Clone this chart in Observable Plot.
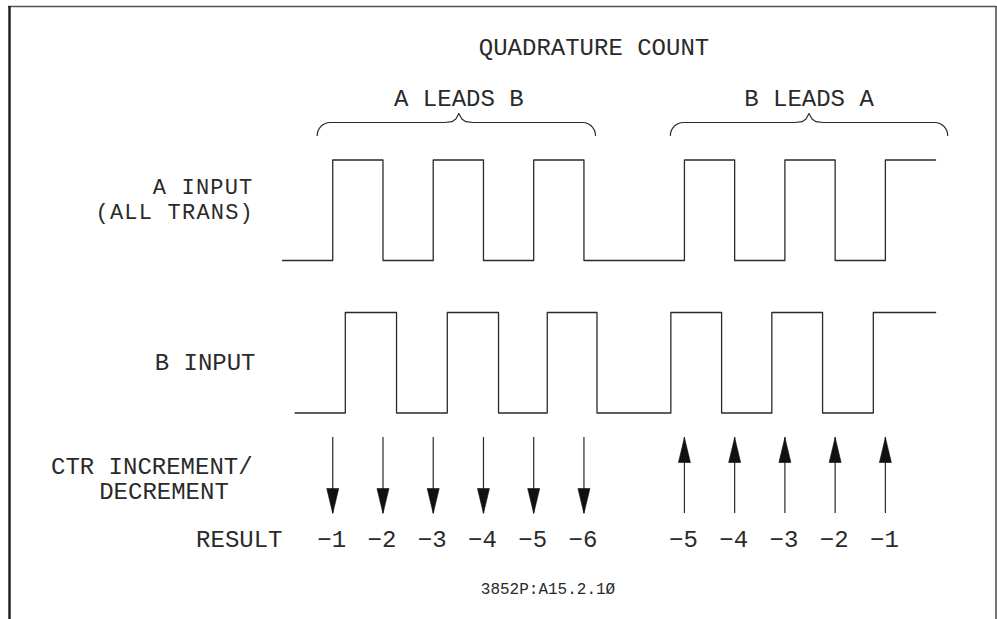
<!DOCTYPE html>
<html><head><meta charset="utf-8">
<script src="https://cdn.jsdelivr.net/npm/d3@7"></script>
<script src="https://cdn.jsdelivr.net/npm/@observablehq/plot@0.6"></script>
<style>html,body{margin:0;padding:0;background:#fff;} #chart svg{display:block;} #chart .tight text{letter-spacing:1.2px;}</style>
</head><body><div id="chart"></div>
<script>
// ---------------- data (time in clock half-periods) ----------------
const title = "QUADRATURE COUNT";
const caption = "3852P:A15.2.1Ø";
const rowLabels = ["A INPUT", "(ALL TRANS)", "B INPUT", "CTR INCREMENT/", "DECREMENT", "RESULT"];

const aStart = 0, aEnd = 13;
const aEdges = [1, 2, 3, 4, 5, 6, 8, 9, 10, 11, 12];
const bStart = 0.25, bEnd = 13;
const bEdges = [1.25, 2.27, 3.28, 4.3, 5.27, 6.26, 7.73, 8.74, 9.74, 10.75, 11.76];

const braceLabels = ["A LEADS B", "B LEADS A"];
const braceStart = [0.69, 7.72];
const braceEnd = [6.23, 13.24];
const bracePeak = [3.51, 10.48];

const arrowTimes = [1, 2, 3, 4, 5, 6, 8, 9, 10, 11, 12];
const arrowDir = ["down", "down", "down", "down", "down", "down", "up", "up", "up", "up", "up"];
const results = [-1, -2, -3, -4, -5, -6, -5, -4, -3, -2, -1];

// ---------------- layout ----------------
const W = 997, H = 619;
const X0 = 282, UNIT = 50.24;           // pixel of t=0, pixels per time unit
const T = px => (px - X0) / UNIT;       // pixel -> time (for label placement)
const laneA = 260, laneB = 412.5, amp = 100.5;
const arrowTop = 437, arrowBot = 513, headLen = 25, headHalf = 6;
const braceY = 122, braceDrop = 13, bracePeakY = 113;
const ink = "#2a2a2a", font = "Liberation Mono";

function steps(start, end, edges) {
  let v = 0;
  const pts = [{t: start, v}];
  for (const e of edges) { v = 1 - v; pts.push({t: e, v}); }
  pts.push({t: end, v});
  return pts;
}
const ptsA = steps(aStart, aEnd, aEdges);
const ptsB = steps(bStart, bEnd, bEdges);

// brace geometry
const bracePts = [];
braceLabels.forEach((lab, i) => {
  const xs = X0 + braceStart[i] * UNIT, xe = X0 + braceEnd[i] * UNIT, xp = X0 + bracePeak[i] * UNIT;
  const r = 13, pts = [];
  for (let k = 0; k <= 8; k++) { const a = Math.PI + k / 8 * Math.PI / 2; pts.push([xs + r + r * Math.cos(a), braceY + braceDrop + braceDrop * Math.sin(a)]); }
  pts.push([xp - 14, braceY], [xp - 7, braceY - 0.8], [xp - 3, braceY - 3.5], [xp, bracePeakY], [xp + 3, braceY - 3.5], [xp + 7, braceY - 0.8], [xp + 14, braceY]);
  for (let k = 0; k <= 8; k++) { const a = 1.5 * Math.PI + k / 8 * Math.PI / 2; pts.push([xe - r + r * Math.cos(a), braceY + braceDrop + braceDrop * Math.sin(a)]); }
  pts.forEach(([x, y]) => bracePts.push({id: i, t: T(x), y}));
});

const arrows = arrowTimes.map((t, i) => ({t, dir: arrowDir[i], r: results[i]}));
const headDown = {draw(c) { c.moveTo(0, 0); c.lineTo(-headHalf, -headLen); c.lineTo(headHalf, -headLen); c.closePath(); }};
const headUp = {draw(c) { c.moveTo(0, 0); c.lineTo(-headHalf, headLen); c.lineTo(headHalf, headLen); c.closePath(); }};
const fmt = d3.format("d");

const rowLabelPos = [
  {x: T(253), y: 186.5, anchor: "end", size: 22},
  {x: T(253.5), y: 211, anchor: "end", size: 22},
  {x: T(255), y: 362, anchor: "end", size: 24},
  {x: T(50.5), y: 466, anchor: "start", size: 24},
  {x: T(163.5), y: 490.5, anchor: "middle", size: 24},
  {x: T(282), y: 539, anchor: "end", size: 24}
];
const rowLabelData = rowLabels.map((s, i) => ({s, ...rowLabelPos[i]}));

const chart = Plot.plot({
  width: W, height: H, margin: 0,
  x: {domain: [T(0), T(W)], range: [0, W], axis: null},
  y: {domain: [0, H], range: [0, H], axis: null},
  style: {background: "#fff"},
  marks: [
    // frame
    Plot.ruleY([6], {x1: T(8), x2: T(996), stroke: "#555", strokeWidth: 1.5}),
    Plot.ruleX([T(9)], {y1: 6, y2: H, stroke: "#222", strokeWidth: 2.5}),
    Plot.ruleX([T(995.5)], {y1: 6, y2: H, stroke: "#444", strokeWidth: 1.5}),
    // signals
    Plot.line(ptsA, {x: "t", y: d => laneA - d.v * amp, curve: "step-after", stroke: ink, strokeWidth: 1.3}),
    Plot.line(ptsB, {x: "t", y: d => laneB - d.v * amp, curve: "step-after", stroke: ink, strokeWidth: 1.3}),
    // braces
    Plot.line(bracePts, {x: "t", y: "y", z: "id", curve: "linear", stroke: ink, strokeWidth: 1.2}),
    Plot.text(braceLabels, {x: (d, i) => bracePeak[i], y: 97.5, text: d => d, fontFamily: font, fontSize: 24, fill: ink}),
    Plot.text([title], {x: T(593.5), y: 47, text: d => d, fontFamily: font, fontSize: 24, fill: ink}),
    // row labels
    Plot.text(rowLabelData, {x: "x", y: "y", text: "s", textAnchor: "end", fontFamily: font, fontSize: 22, fill: ink,
      className: "tight", filter: d => d.anchor === "end" && d.size === 22}),
    Plot.text(rowLabelData, {x: "x", y: "y", text: "s", textAnchor: "end", fontFamily: font, fontSize: 24, fill: ink,
      filter: d => d.anchor === "end" && d.size === 24}),
    Plot.text(rowLabelData, {x: "x", y: "y", text: "s", textAnchor: "start", fontFamily: font, fontSize: 24, fill: ink,
      filter: d => d.anchor === "start"}),
    Plot.text(rowLabelData, {x: "x", y: "y", text: "s", textAnchor: "middle", fontFamily: font, fontSize: 24, fill: ink,
      filter: d => d.anchor === "middle"}),
    // arrows
    Plot.ruleX(arrows, {x: "t", y1: arrowTop, y2: arrowBot, stroke: ink, strokeWidth: 1.2}),
    Plot.dot(arrows.filter(d => d.dir === "down"), {x: "t", y: arrowBot, symbol: headDown, fill: "#111", stroke: "#111", strokeWidth: 0.6}),
    Plot.dot(arrows.filter(d => d.dir === "up"), {x: "t", y: arrowTop, symbol: headUp, fill: "#111", stroke: "#111", strokeWidth: 0.6}),
    // results
    Plot.text(arrows, {x: "t", y: 539, dx: -1, text: d => fmt(d.r), fontFamily: font, fontSize: 24, fill: ink}),
    // caption
    Plot.text([caption], {x: T(547.5), y: 588, text: d => d, fontFamily: font, fontSize: 16, fill: ink})
  ]
});
document.getElementById("chart").appendChild(chart);
</script>
</body></html>
